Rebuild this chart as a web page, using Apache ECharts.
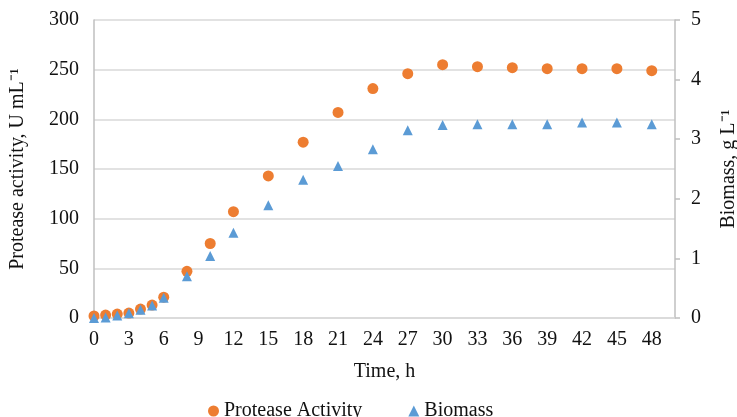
<!DOCTYPE html>
<html>
<head>
<meta charset="utf-8">
<script src="https://cdn.jsdelivr.net/npm/echarts@6/dist/echarts.min.js"></script>
<style>
html,body{margin:0;padding:0;background:#fff;}
#chart{width:737px;height:417px;}
</style>
</head>
<body>
<div id="chart"></div>
<script>
const timeH = [0,1,2,3,4,5,6,8,10,12,15,18,21,24,27,30,33,36,39,42,45,48];
const proteaseActivity = [2,3,4,5,9,13,21,47,75,107,143,177,207,231,246,255,253,252,251,251,251,249];
const biomass = [0,0.01,0.04,0.08,0.14,0.21,0.34,0.70,1.04,1.43,1.89,2.32,2.55,2.83,3.15,3.24,3.25,3.25,3.25,3.28,3.28,3.25];
const seriesNames = ['Protease Activity', 'Biomass'];

const FONT = "'Liberation Serif', 'Times New Roman', serif";
const TXT = '#111';
const chart = echarts.init(document.getElementById('chart'));
chart.setOption({
  animation: false,
  backgroundColor: '#fff',
  textStyle: { fontFamily: FONT, color: TXT },
  grid: { left: 94, right: 62, top: 20, bottom: 99, containLabel: false, outerBoundsMode: 'none' },
  legend: {
    left: 203, top: 396,
    itemWidth: 11, itemHeight: 11, itemGap: 46,
    textStyle: { fontFamily: FONT, fontSize: 20, color: TXT },
    data: [
      { name: seriesNames[0], icon: 'circle' },
      { name: seriesNames[1], icon: 'triangle' }
    ]
  },
  xAxis: {
    type: 'value', min: 0, max: 50, interval: 3,
    name: 'Time, h', nameLocation: 'middle', nameGap: 44,
    nameTextStyle: { fontFamily: FONT, fontSize: 20, color: TXT },
    axisLine: { show: true, lineStyle: { color: '#D9D9D9', width: 1.5 } },
    axisTick: { show: false },
    splitLine: { show: false },
    axisLabel: { fontFamily: FONT, fontSize: 20, color: TXT, margin: 12,
      formatter: v => (v % 3 === 0 ? String(v) : '') }
  },
  yAxis: [
    {
      type: 'value', min: 0, max: 300, interval: 50,
      name: 'Protease activity, U mL\u207B\u00B9', nameLocation: 'middle', nameGap: 66, nameRotate: 90,
      nameTextStyle: { fontFamily: FONT, fontSize: 20, color: TXT },
      axisLine: { show: true, lineStyle: { color: '#BFBFBF', width: 1.5 } },
      axisTick: { show: false },
      splitLine: { show: true, lineStyle: { color: '#D9D9D9', width: 1.5 } },
      axisLabel: { fontFamily: FONT, fontSize: 20, color: TXT, margin: 15 }
    },
    {
      type: 'value', min: 0, max: 5, interval: 1, position: 'right',
      name: 'Biomass, g L\u207B\u00B9', nameLocation: 'middle', nameGap: 44, nameRotate: 90,
      nameTextStyle: { fontFamily: FONT, fontSize: 20, color: TXT },
      axisLine: { show: true, lineStyle: { color: '#BFBFBF', width: 1.5 } },
      axisTick: { show: true, inside: false, length: 5, lineStyle: { color: '#BFBFBF', width: 1.5 } },
      splitLine: { show: false },
      axisLabel: { fontFamily: FONT, fontSize: 20, color: TXT, margin: 16 }
    }
  ],
  series: [
    {
      name: seriesNames[0], type: 'scatter', yAxisIndex: 0,
      symbol: 'circle', symbolSize: 11,
      itemStyle: { color: '#ED7D31', opacity: 1 },
      data: timeH.map((t, i) => [t, proteaseActivity[i]]),
      z: 2
    },
    {
      name: seriesNames[1], type: 'scatter', yAxisIndex: 1,
      symbol: 'triangle', symbolSize: [10, 10],
      itemStyle: { color: '#5B9BD5', opacity: 1 },
      data: timeH.map((t, i) => [t, biomass[i]]),
      z: 3
    }
  ]
});
</script>
</body>
</html>
